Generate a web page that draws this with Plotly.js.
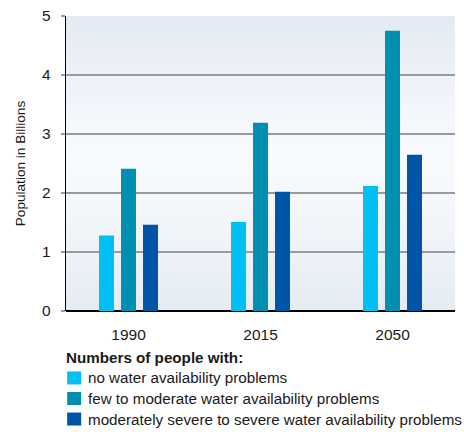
<!DOCTYPE html>
<html>
<head>
<meta charset="utf-8">
<script src="https://cdn.plot.ly/plotly-3.0.1.min.js"></script>
<style>
  html, body { margin: 0; padding: 0; background: #ffffff; }
  #chart { width: 464px; height: 432px; }
</style>
</head>
<body>
<div id="chart"></div>
<script>
// Population (billions) by water availability, per year
const years = ['1990', '2015', '2050'];
const seriesNames = [
  'no water availability problems',
  'few to moderate water availability problems',
  'moderately severe to severe water availability problems'
];
const noProblems = [1.28, 1.51, 2.12];
const fewToModerate = [2.41, 3.19, 4.75];
const severe = [1.46, 2.02, 2.65];
const seriesColors = ['#00bff2', '#008fb0', '#0054a5'];
const yTicks = [0, 1, 2, 3, 4, 5];
const legendTitle = 'Numbers of people with:';
const yTitle = 'Population in Billions';

const seriesValues = [noProblems, fewToModerate, severe];
const font = 'Liberation Sans, Arial, sans-serif';

const traces = seriesValues.map((vals, i) => ({
  type: 'bar',
  name: seriesNames[i],
  x: years,
  y: vals,
  marker: { color: seriesColors[i], line: { width: 0 } },
  hoverinfo: 'x+y+name'
}));

// Soft vertical gradient behind the plot area
const gradientSvg =
  '<svg xmlns="http://www.w3.org/2000/svg" width="10" height="100" preserveAspectRatio="none">' +
  '<defs><linearGradient id="g" x1="0" y1="0" x2="0" y2="1">' +
  '<stop offset="0" stop-color="#e4eaf3"/>' +
  '<stop offset="0.35" stop-color="#f4f7fc"/>' +
  '<stop offset="0.5" stop-color="#f8fbfe"/>' +
  '<stop offset="0.72" stop-color="#f1f5fa"/>' +
  '<stop offset="1" stop-color="#e5ebf3"/>' +
  '</linearGradient></defs>' +
  '<rect width="10" height="100" fill="url(#g)"/></svg>';
const gradientUri = 'data:image/svg+xml;base64,' + btoa(gradientSvg);

// Legend below the chart: swatches + labels
const legendTop = -0.1574;    // paper y of the legend title
const legendStep = 0.0696;    // paper spacing between rows
const annotations = [{
  xref: 'paper', yref: 'paper',
  x: -0.004, y: legendTop, xanchor: 'left', yanchor: 'middle',
  text: '<b>' + legendTitle + '</b>', showarrow: false,
  font: { family: font, size: 15.2, color: '#1a1a1a' }
}];
const shapes = [];
seriesNames.forEach((name, i) => {
  const yc = legendTop - legendStep * (i + 1);
  annotations.push({
    xref: 'paper', yref: 'paper',
    x: 0.051, y: yc, xanchor: 'left', yanchor: 'middle',
    text: name, showarrow: false,
    font: { family: font, size: 15.2, color: '#1a1a1a' }
  });
  shapes.push({
    type: 'rect', xref: 'paper', yref: 'paper',
    x0: 0.003, x1: 0.039, y0: yc - 0.022, y1: yc + 0.022,
    fillcolor: seriesColors[i], line: { width: 0 }
  });
});

const layout = {
  width: 464, height: 432,
  margin: { l: 66, r: 9, t: 16, b: 120.5 },
  paper_bgcolor: '#ffffff',
  plot_bgcolor: 'rgba(0,0,0,0)',
  barmode: 'group',
  bargap: 0.5,
  bargroupgap: 0.32,
  showlegend: false,
  font: { family: font, size: 15, color: '#1a1a1a' },
  images: [{
    source: gradientUri, xref: 'paper', yref: 'paper',
    x: 0, y: 1, sizex: 1, sizey: 1, xanchor: 'left', yanchor: 'top',
    sizing: 'stretch', layer: 'below'
  }],
  xaxis: {
    type: 'category',
    range: [-0.4735, 2.4735],
    showgrid: false,
    showline: false,
    zeroline: false,
    ticks: '',
    tickfont: { family: font, size: 15.5, color: '#1a1a1a' },
    ticklabelstandoff: 12,
    fixedrange: true
  },
  yaxis: {
    range: [0, 5],
    tickvals: yTicks,
    ticktext: yTicks.map(String),
    showgrid: true,
    gridcolor: '#999a9d',
    gridwidth: 1.2,
    showline: true,
    linecolor: '#000000',
    linewidth: 1.3,
    zeroline: true,
    zerolinecolor: '#000000',
    zerolinewidth: 1.3,
    ticks: 'outside',
    ticklen: 4,
    tickcolor: '#999a9d',
    tickwidth: 1.2,
    tickfont: { family: font, size: 15.5, color: '#1a1a1a' },
    ticklabelstandoff: 7,
    title: { text: yTitle, font: { family: font, size: 13.6, color: '#1a1a1a' }, standoff: 13 },
    fixedrange: true
  },
  annotations: annotations,
  shapes: shapes
};

Plotly.newPlot('chart', traces, layout, { displayModeBar: false, staticPlot: true });
</script>
</body>
</html>
